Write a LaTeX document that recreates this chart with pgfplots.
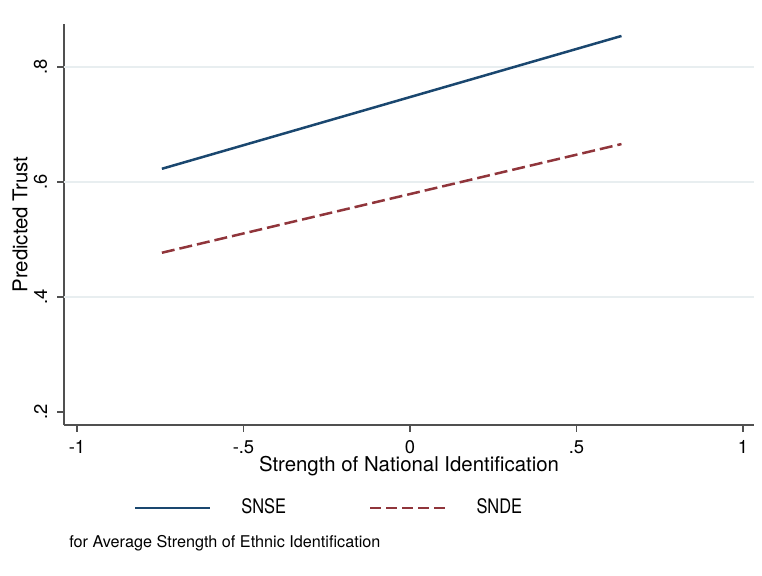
\documentclass[border=0pt]{standalone}
\usepackage{pgfplots}
\pgfplotsset{compat=1.18}
\usepackage{fontspec}
\setmainfont{TeX Gyre Heros}
\newfontfamily\legfont[FakeStretch=0.82]{TeX Gyre Heros}
\definecolor{snse}{RGB}{26,71,111}
\definecolor{snde}{RGB}{144,53,59}
\definecolor{gridc}{RGB}{232,238,240}
\definecolor{axc}{RGB}{80,80,80}
\pgfplotsset{dashleg/.style={legend image code/.code={\draw[##1, dash pattern=on 5.5pt off 2.5pt] (0pt,0pt) -- (37.5pt,0pt);}}}
\begin{document}
\begin{tikzpicture}
\useasboundingbox (0,0) rectangle (381pt,287.5pt);
\begin{axis}[
  at={(32pt,75pt)}, anchor=south west,
  scale only axis, width=345pt, height=200.5pt,
  xmin=-1.039, xmax=1.033, ymin=0.1774, ymax=0.8748,
  axis lines*=left,
  axis line style={axc, line width=0.75pt},
  every tick/.style={axc, line width=0.75pt},
  tick align=outside, major tick length=3.25pt,
  xtick={-1,-0.5,0,0.5,1}, xticklabels={-1,-.5,0,.5,1},
  ytick={0.2,0.4,0.6,0.8}, yticklabels={.2,.4,.6,.8},
  extra y ticks={0.4,0.6,0.8}, extra y tick labels={},
  extra y tick style={ymajorgrids=true, major tick length=0pt},
  y grid style={gridc, line width=0.9pt},
  /pgf/number format/assume math mode=true,
  xticklabel style={font=\fontsize{9.2}{10}\selectfont, inner sep=0pt, anchor=north, yshift=-4.5pt},
  yticklabel style={font=\fontsize{9.2}{10}\selectfont, rotate=90, anchor=south, inner xsep=0pt, inner ysep=5pt},
  xlabel={Strength of National Identification},
  ylabel={Predicted Trust},
  label style={font=\fontsize{10.2}{12}\selectfont},
  xlabel style={at={(axis description cs:0.5,-0.102)}, anchor=center},
  ylabel style={at={(axis description cs:-0.0638,0.5)}, anchor=center},
  clip=false,
  legend columns=2,
  legend style={draw=none, fill=none, at={(axis description cs:0.3826,-0.207)}, anchor=center,
    font=\legfont\fontsize{10}{12}\selectfont, inner sep=0pt,
    nodes={inner sep=0pt},
    /tikz/every odd column/.append style={column sep=15pt},
    /tikz/every even column/.append style={column sep=41.5pt}},
  legend image code/.code={\draw[#1] (0pt,0pt) -- (37.5pt,0pt);},
]
\addplot[snse, line width=1.25pt] coordinates {(-0.745,0.623) (0.635,0.854)};
\addlegendentry{SNSE}
\addplot[snde, line width=1.25pt, dash pattern=on 6.5pt off 2.5pt, dashleg]
  coordinates {(-0.745,0.477) (0.635,0.666)};
\addlegendentry{SNDE}
\node[anchor=west, inner sep=0pt, font=\fontsize{8.1}{9}\selectfont] at (axis description cs:0.0072,-0.294) {for Average Strength of Ethnic Identification};
\end{axis}
\end{tikzpicture}
\end{document}
